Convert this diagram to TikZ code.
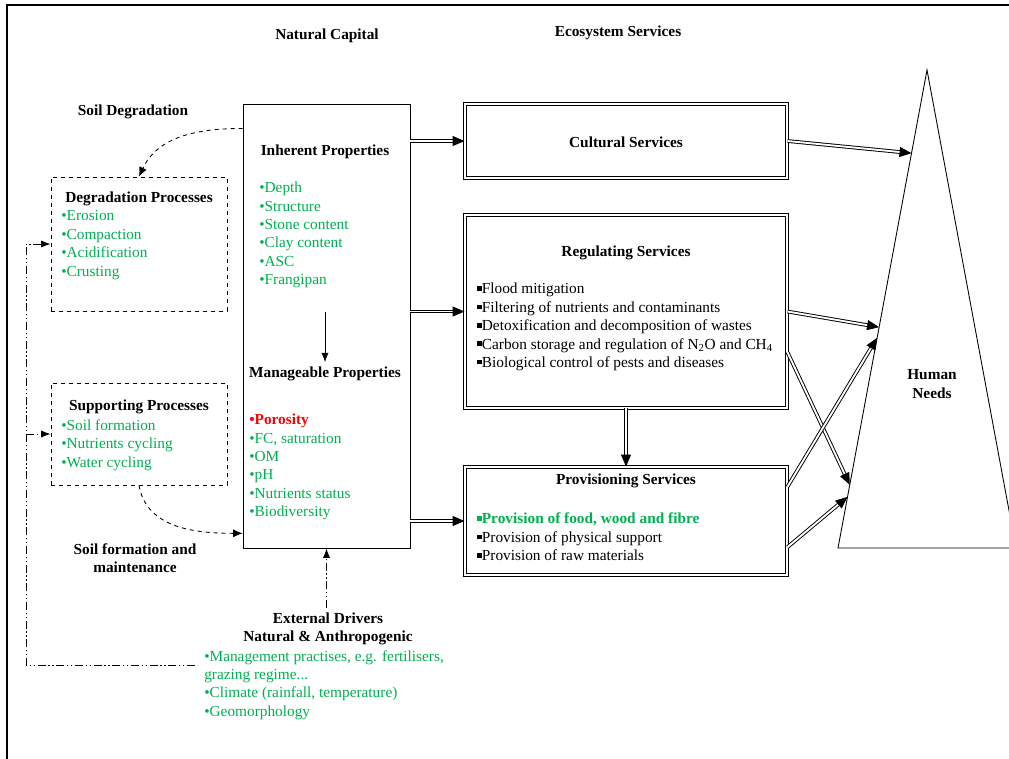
\documentclass[tikz,border=0pt]{standalone}
\usepackage{fontspec}
\setmainfont{Liberation Serif}
\usetikzlibrary{arrows.meta, positioning, fit, calc}
\definecolor{sgreen}{RGB}{0,176,80}
\newcommand{\sqbul}{\rule[0.2em]{0.3em}{0.3em}}

\begin{document}
\begin{tikzpicture}[
    x=0.75pt, y=-0.75pt,
    every node/.style={font=\fontsize{11.5}{13.8}\selectfont},
    head/.style={font=\fontsize{11.5}{13.8}\selectfont\bfseries, align=center},
    items/.style={text=sgreen, align=left, anchor=west, inner sep=0pt},
    blist/.style={align=left, anchor=west, inner sep=0pt},
    plainbox/.style={draw, line width=0.65pt, inner sep=0pt},
    dashbox/.style={draw, dashed, line width=0.65pt, inner sep=0pt},
    servbox/.style={draw, double, double distance=1.5pt, line width=0.7pt, inner sep=0pt},
    dbl/.style={double, double distance=1.4pt, line width=0.7pt, -{Triangle[length=9pt,width=7.5pt]}},
    ddash/.style={dashed, line width=0.65pt, -{Latex[length=7pt,width=6pt]}},
    dotdash/.style={line width=0.65pt, dash pattern=on 6pt off 2pt on 1pt off 2pt on 1pt off 2pt}
]
\useasboundingbox (0,0) rectangle (1009,758);
\clip (0,0) rectangle (1009,758);

% Frame
\draw[line width=1.5pt] (7,790) -- (7,5) -- (1040,5);

% Headings
\node[head] (natcap) at (327,36) {Natural Capital};
\node[head] (ecoserv) at (618,33) {Ecosystem Services};
\node[head] (soildeg) at (133,112) {Soil Degradation};

% Natural capital
\node[plainbox, fit={(243,104) (410,548)}] (nat) {};
\node[head] (inh) at (325,152) {Inherent Properties};
\node[items] (inhlist) at (259,235) {•Depth\\•Structure\\•Stone content\\•Clay content\\•ASC\\•Frangipan};
\node[head] (man) at (325,374) {Manageable Properties};
\node[items] (manlist) at (249,467) {\textcolor{red}{\bfseries •Porosity}\\•FC, saturation\\•OM\\•pH\\•Nutrients status\\•Biodiversity};

% Processes
\node[dashbox, fit={(51,177) (227,311)}] (deg) {};
\node[head] (deghead) at (139,199) {Degradation Processes};
\node[items] (deglist) at (61,245) {•Erosion\\•Compaction\\•Acidification\\•Crusting};
\node[dashbox, fit={(51,383) (227,485)}] (sup) {};
\node[head] (suphead) at (139,407) {Supporting Processes};
\node[items] (suplist) at (61,445) {•Soil formation\\•Nutrients cycling\\•Water cycling};
\node[head] (soilform) at (135,558) {Soil formation and\\maintenance};

% External drivers
\node[head] (ext) at (328,629) {External Drivers\\Natural \& Anthropogenic};
\node[items] (extlist) at (204,685) {•Management practises, e.g. fertilisers,\\grazing regime...\\•Climate (rainfall, temperature)\\•Geomorphology};

% Ecosystem services
\node[servbox, fit={(465,104) (787,178)}] (cult) {};
\node[head] (culthead) at (626,142) {Cultural Services};
\node[servbox, fit={(465,215) (787,408)}] (reg) {};
\node[head] (reghead) at (626,253) {Regulating Services};
\node[blist] (reglist) at (477,327) {\sqbul Flood mitigation\\\sqbul Filtering of nutrients and contaminants\\\sqbul Detoxification and decomposition of wastes\\\sqbul Carbon storage and regulation of N\textsubscript{2}O and CH\textsubscript{4}\\\sqbul Biological control of pests and diseases};
\node[servbox, fit={(465,467) (787,575)}] (prov) {};
\node[head] (provhead) at (626,481) {Provisioning Services};
\node[blist] (provlist) at (477,537) {\textcolor{sgreen}{\bfseries\sqbul Provision of food, wood and fibre}\\\sqbul Provision of physical support\\\sqbul Provision of raw materials};

% Human needs
\coordinate (apex) at (927,70);
\coordinate (bl) at (838,548);
\coordinate (br) at (1016,548);
\draw[line width=0.65pt] (apex) -- (bl) -- (br) -- cycle;
\node[head] (needs) at (932,384) {Human\\Needs};

% Arrows
\draw[-{Latex[length=7pt]}, line width=0.65pt] ([yshift=-18pt]inhlist.south -| man.north) -- (man.north);
\draw[ddash] ($(nat.north west)!0.056!(nat.south west)$) to[out=180, in=65] (deg.north);
\draw[ddash] (sup.south) to[out=-80, in=180] ($(nat.north west)!0.966!(nat.south west)$);
\coordinate (drv) at (195,665);
\coordinate (loop) at (26,665);
\draw[dotdash, -{Latex[length=7pt]}] (drv) -- (loop) |- (deg.west);
\draw[dotdash, -{Latex[length=7pt]}] (loop |- sup.west) -- (sup.west);
\draw[dotdash, -{Latex[length=7pt]}] (nat.south |- ext.north) -- (nat.south);

\draw[dbl] (nat.east |- cult.west) -- (cult.west);
\draw[dbl] (nat.east |- reg.west) -- (reg.west);
\draw[dbl] (nat.east |- prov.west) -- (prov.west);
\draw[dbl] (reg.south) -- (prov.north);

\draw[dbl] (cult.east) -- ($(apex)!0.174!(bl)$);
\draw[dbl] (reg.east) -- ($(apex)!0.538!(bl)$);
\draw[dbl] ($(reg.north east)!0.71!(reg.south east)$) -- ($(apex)!0.868!(bl)$);
\draw[dbl] ($(prov.north east)!0.185!(prov.south east)$) -- ($(apex)!0.56!(bl)$);
\draw[dbl] ($(prov.north east)!0.74!(prov.south east)$) -- ($(apex)!0.893!(bl)$);

\end{tikzpicture}
\end{document}
